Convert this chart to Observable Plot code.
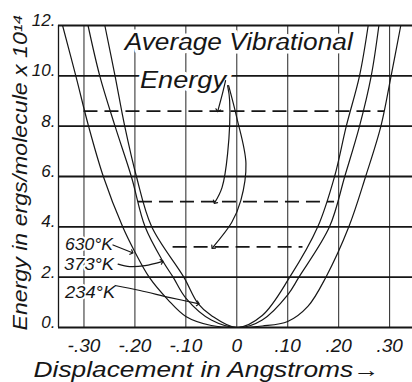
<!DOCTYPE html>
<html><head><meta charset="utf-8">
<script src="https://cdn.jsdelivr.net/npm/d3@7"></script>
<script src="https://cdn.jsdelivr.net/npm/@observablehq/plot@0.6"></script>
<style>
html,body{margin:0;padding:0;background:#fff;}
#chart svg{display:block;}
</style></head><body><div id="chart"></div>
<script>
// ---- data ----
const xDomain = [-0.35, 0.345];
const yDomain = [0, 12];
const xTicks = [-0.30, -0.20, -0.10, 0, 0.10, 0.20, 0.30];
const xTickLabels = ["-.30", "-.20", "-.10", "0", ".10", ".20", ".30"];
const yTicks = [0, 2, 4, 6, 8, 10, 12];
const yTickLabels = ["0.", "2.", "4.", "6.", "8.", "10.", "12."];

const curveNames = ["630°K", "373°K", "234°K"];
const curve630x = [-0.342,-0.316,-0.291,-0.262,-0.224,-0.200,-0.172,-0.135,-0.100,-0.050,0,0.050,0.100,0.140,0.175,0.220,0.253,0.283,0.303,0.322];
const curve630y = [12,10,8,6,4,3,2,1.1,0.44,0.08,0,0.06,0.24,0.85,2,4,6,8,10,12];
const curve373x = [-0.292,-0.269,-0.239,-0.207,-0.180,-0.145,-0.125,-0.100,-0.050,0.005,0.050,0.100,0.122,0.182,0.212,0.241,0.264,0.279];
const curve373y = [12,10,8,6,4,2.63,2,1.17,0.3,0,0.3,1.3,2,4,6,8,10,12];
const curve234x = [-0.259,-0.239,-0.220,-0.197,-0.167,-0.104,-0.076,-0.050,0,0.050,0.104,0.159,0.192,0.215,0.241,0.258];
const curve234y = [12,10,8,6,4,2,0.95,0.48,0,0.48,2,4,6,8,10,12];

// average vibrational energy (dashed levels)
const avgEnergy = [8.6, 5.0, 3.2];
const avgLeft = [-0.300, -0.193, -0.125];
const avgRight = [0.290, 0.192, 0.130];

// annotation texts
const noteText = ["Average Vibrational", "Energy"];
const noteX = [-0.220, -0.190];
const noteY = [11.3, 9.8];
const tempLabelX = [-0.290, -0.290, -0.288];
const tempLabelY = [3.30, 2.52, 1.39];

// annotation arrows (paths)
const arrowId = [1,1,1, 2,2,2,2,2, 3,3,3,3,3,3, 4,4, 5,5,5,5, 6,6,6,6];
const arrowX = [-0.022,-0.029,-0.037,
                -0.018,-0.014,-0.018,-0.029,-0.043,
                -0.016,0.000,0.018,0.008,-0.010,-0.047,
                -0.243,-0.206,
                -0.233,-0.210,-0.180,-0.147,
                -0.239,-0.190,-0.131,-0.076];
const arrowY = [9.81,9.22,8.62,
                9.61,9.02,6.91,5.56,4.97,
                9.61,8.34,6.52,5.05,4.17,3.18,
                3.28,2.98,
                2.52,2.42,2.46,2.62,
                1.67,1.47,1.19,0.95];

const xTitle = "Displacement in Angstroms\u2192";
const yTitle = "Energy in ergs/molecule x 10\u00b9\u2074";

// ---- tables built from the arrays ----
const curves = [];
[[curve630x, curve630y], [curve373x, curve373y], [curve234x, curve234y]].forEach(([xs, ys], k) => {
  xs.forEach((x, i) => curves.push({T: curveNames[k], x, y: ys[i]}));
});
const levels = avgEnergy.map((e, i) => ({e, x1: avgLeft[i], x2: avgRight[i]}));
const arrows = arrowId.map((id, i) => ({id, x: arrowX[i], y: arrowY[i]}));
const notes = noteText.map((t, i) => ({t, x: noteX[i], y: noteY[i]}));
const temps = curveNames.map((t, i) => ({t, x: tempLabelX[i], y: tempLabelY[i]}));

const ink = "#161616";
const font = "'Liberation Sans', Arial, sans-serif";

const chart = Plot.plot({
  width: 412, height: 382,
  marginLeft: 58, marginRight: 0, marginTop: 25, marginBottom: 55,
  x: {domain: xDomain},
  y: {domain: yDomain},
  style: {background: "#fff", fontFamily: font, fontStyle: "italic", color: ink},
  marks: [
    Plot.ruleX(xTicks, {stroke: ink, strokeWidth: 1.1, strokeOpacity: 0.85}),
    Plot.ruleX([xDomain[0]], {stroke: ink, strokeWidth: 1.3}),
    Plot.ruleY(yTicks, {stroke: ink, strokeWidth: 1.8}),
    Plot.ruleY(levels, {y: "e", x1: "x1", x2: "x2", stroke: ink, strokeWidth: 1.7, strokeDasharray: "14,7"}),
    Plot.line(curves, {x: "x", y: "y", z: "T", curve: "catmull-rom", stroke: ink, strokeWidth: 1.2}),
    Plot.text(notes, {x: "x", y: "y", text: "t", textAnchor: "start", fontSize: 23, fill: ink,
      stroke: "white", strokeWidth: 7}),
    Plot.text(temps, {x: "x", y: "y", text: "t", fontSize: 17, fill: ink, stroke: "white", strokeWidth: 4}),
    Plot.line(arrows, {x: "x", y: "y", z: "id", curve: "catmull-rom", stroke: ink, strokeWidth: 1.2, markerEnd: "arrow"}),
    Plot.axisX({ticks: xTicks, tickFormat: d => xTickLabels[xTicks.indexOf(d)], tickSize: 0, tickPadding: 11,
      fontSize: 19, label: null}),
    Plot.axisY({ticks: yTicks, tickFormat: d => yTickLabels[yTicks.indexOf(d)], tickSize: 0, tickPadding: 3,
      fontSize: 17, dy: -5, label: null}),
    Plot.text([xTitle], {frameAnchor: "bottom", textAnchor: "middle", lineAnchor: "middle", dx: -29, dy: 42, fontSize: 22, fill: ink}),
    Plot.text([yTitle], {frameAnchor: "left", textAnchor: "middle", lineAnchor: "middle", rotate: -90, dx: -38, dy: -4, fontSize: 20, fill: ink})
  ]
});

// fit the hand-lettered texts to the widths they have in the figure
const fitWidths = new Map([[xTitle, 346], [yTitle, 316], ["Average Vibrational", 228], ["Energy", 86],
  ["630°K", 48], ["373°K", 50], ["234°K", 50]]);
chart.querySelectorAll("text").forEach(t => {
  const w = fitWidths.get(t.textContent);
  if (w) { t.setAttribute("textLength", w); t.setAttribute("lengthAdjust", "spacingAndGlyphs"); }
});
document.getElementById("chart").appendChild(chart);
</script></body></html>
